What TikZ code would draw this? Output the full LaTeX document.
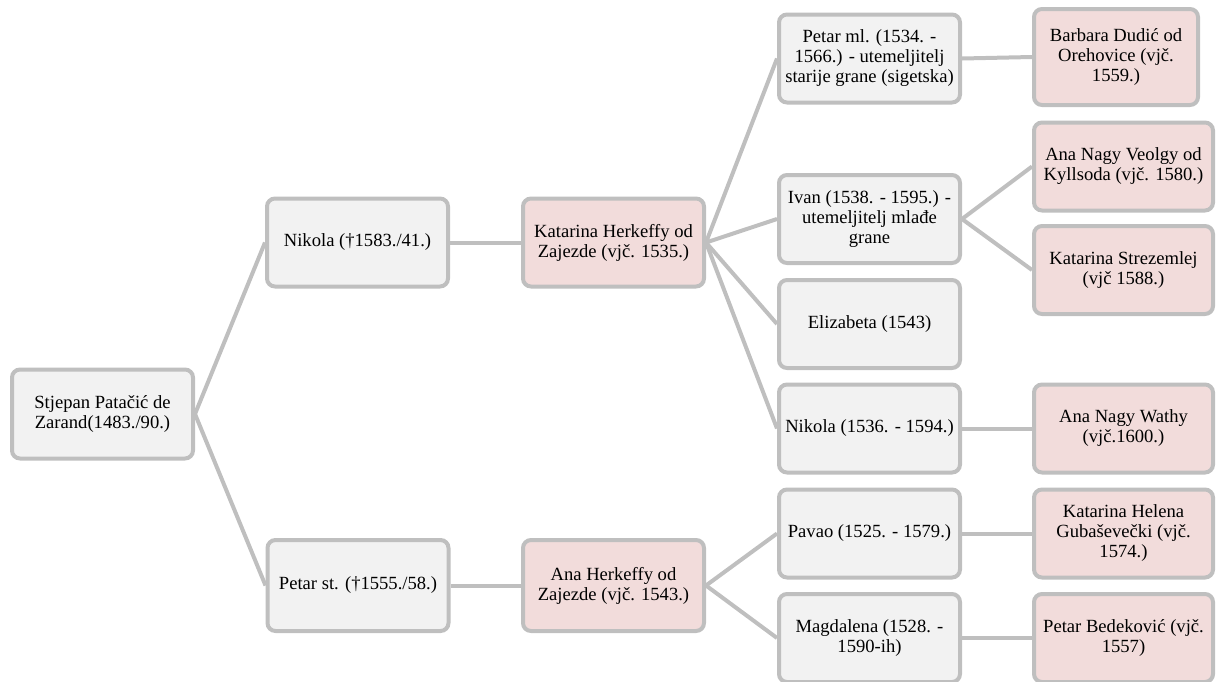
\documentclass[tikz,border=0pt]{standalone}
\usepackage{fontspec}
\setmainfont{Liberation Serif}
\usepackage{xcolor}
\definecolor{boxgrey}{HTML}{F2F2F2}
\definecolor{boxpink}{HTML}{F2DCDB}
\definecolor{edgegrey}{HTML}{BFBFBF}

\begin{document}
\begin{tikzpicture}[x=1pt,y=-1pt]
\tikzset{
    m1/.style={%
        draw=edgegrey, line width=4pt,
        fill=boxgrey,
        rectangle,
        rounded corners=8pt,
        align=center,
        inner sep=0pt,
        font=\fontsize{18.6}{20}\selectfont,
        minimum height=88pt,
        minimum width=181pt
        },
    s1/.style={m1, fill=boxpink},
    link/.style={draw=edgegrey, line width=4pt},
}
\useasboundingbox (0,0) rectangle (1216,681);
%%%ANCESTORS
\node[m1, minimum height=89pt] (stjepan) at (102.5,414) {Stjepan Patačić de\\Zarand(1483./90.)};
\node[m1] (nikola) at (357.5,242.5) {Nikola (†1583./41.)};
\node[s1] (katH) at (613.5,242.5) {Katarina Herkeffy od\\Zajezde (vjč. 1535.)};
\node[m1, minimum height=91pt] (petarSt) at (358,585.5) {Petar st. (†1555./58.)};
\node[s1, minimum height=91pt] (anaH) at (613.5,585.5) {Ana Herkeffy od\\Zajezde (vjč. 1543.)};
%%%CHILDREN
\node[m1] (petarMl) at (869.5,58.5) {Petar ml. (1534. -\\1566.) - utemeljitelj\\starije grane (sigetska)};
\node[m1] (ivan) at (869.5,219) {Ivan (1538. - 1595.) -\\utemeljitelj mlađe\\grane};
\node[m1] (elizabeta) at (869.5,324) {Elizabeta (1543)};
\node[m1] (nikolaMl) at (869.5,428.5) {Nikola (1536. - 1594.)};
\node[m1] (pavao) at (869.5,533.5) {Pavao (1525. - 1579.)};
\node[m1] (magdalena) at (869.5,638) {Magdalena (1528. -\\1590-ih)};
%%%SPOUSES
\node[s1, minimum width=164pt, minimum height=96pt] (barbara) at (1116,57) {Barbara Dudić od\\Orehovice (vjč.\\1559.)};
\node[s1, minimum width=179pt] (anaV) at (1123.5,166.5) {Ana Nagy Veolgy od\\Kyllsoda (vjč. 1580.)};
\node[s1, minimum width=179pt] (katS) at (1123.5,270) {Katarina Strezemlej\\(vjč 1588.)};
\node[s1, minimum width=179pt] (anaW) at (1123.5,428.5) {Ana Nagy Wathy\\(vjč.1600.)};
\node[s1, minimum width=179pt] (katHel) at (1123.5,533.5) {Katarina Helena\\Gubaševečki (vjč.\\1574.)};
\node[s1, minimum width=179pt] (petarB) at (1123.5,638) {Petar Bedeković (vjč.\\1557)};
%%%LINKS
\draw[link] (stjepan.east) -- (nikola.west);
\draw[link] (stjepan.east) -- (petarSt.west);
\draw[link] (nikola.east) -- (katH.west);
\draw[link] (petarSt.east) -- (anaH.west);
\draw[link] (katH.east) -- (petarMl.west);
\draw[link] (katH.east) -- (ivan.west);
\draw[link] (katH.east) -- (elizabeta.west);
\draw[link] (katH.east) -- (nikolaMl.west);
\draw[link] (anaH.east) -- (pavao.west);
\draw[link] (anaH.east) -- (magdalena.west);
\draw[link] (petarMl.east) -- (barbara.west);
\draw[link] (ivan.east) -- (anaV.west);
\draw[link] (ivan.east) -- (katS.west);
\draw[link] (nikolaMl.east) -- (anaW.west);
\draw[link] (pavao.east) -- (katHel.west);
\draw[link] (magdalena.east) -- (petarB.west);
\end{tikzpicture}
\end{document}
